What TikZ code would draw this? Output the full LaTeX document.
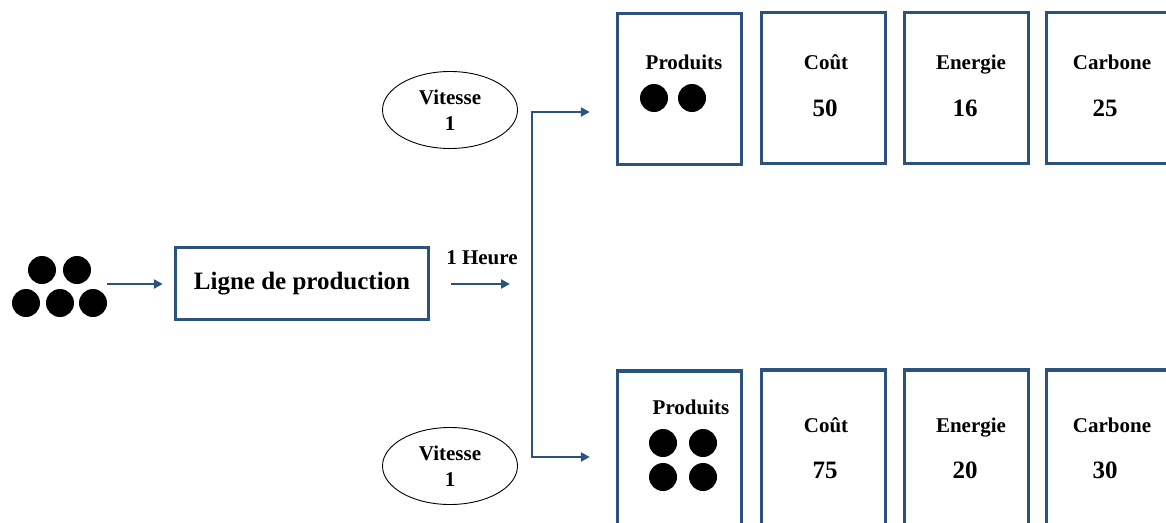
\documentclass[tikz,border=0pt]{standalone}
\usepackage{fontspec}
\setmainfont{Liberation Serif}
\usetikzlibrary{arrows.meta,shapes.geometric}
\definecolor{lineblue}{RGB}{44,82,128}

\begin{document}
\begin{tikzpicture}[x=1pt,y=-1pt]
    \tikzstyle{card}=[draw=lineblue,line width=3.4pt,minimum width=124pt,minimum height=151pt,inner sep=0pt]
    \tikzstyle{dot}=[circle,fill=black,minimum size=28pt,inner sep=0pt]
    \tikzstyle{flowline}=[draw=lineblue,line width=2.6pt]
    \tikzstyle{flow}=[flowline,-{Triangle[length=9pt,width=9pt]}]
    \tikzstyle{lbl}=[inner sep=0pt,text depth=0pt,font=\bfseries\fontsize{21}{26}\selectfont]
    \tikzstyle{num}=[inner sep=0pt,font=\bfseries\fontsize{25}{28}\selectfont]
    \tikzstyle{speed}=[draw,ellipse,line width=0.9pt,minimum width=135pt,minimum height=77pt,inner sep=0pt,align=center,font=\bfseries\fontsize{21}{26}\selectfont]
    \useasboundingbox (0,0) rectangle (1166,522);

    % raw parts
    \node[dot] (d1) at (42,270) {};
    \node[dot] (d2) at (77,270) {};
    \node[dot] (d3) at (26,303) {};
    \node[dot] (d4) at (60,303) {};
    \node[dot] (d5) at (93,303) {};

    % line
    \node[draw=lineblue,line width=3.4pt,minimum width=253pt,minimum height=72pt,
        font=\bfseries\fontsize{25}{28}\selectfont] (line) at (302,283.5) {Ligne de production};
    \coordinate (inArr) at (107,284);
    \draw[flow,shorten >=11pt] (inArr) -- (inArr -| line.west);
    \node[lbl] (hour) at (482,258) {1 Heure};
    \coordinate (h1) at (451,284);
    \coordinate (h2) at (510,284);
    \draw[flow] (h1) -- (h2);

    % speed choices
    \node[speed] (v1) at (450,110) {Vitesse\\1};
    \node[speed] (v2) at (450,466) {Vitesse\\1};

    % result cards, speed 1
    \node[card] (p1) at (679.5,89) {};
    \node[card] (p2) at (823.5,88) {};
    \node[card] (p3) at (966.5,88) {};
    \node[card] (p4) at (1108.5,88) {};
    % result cards, speed 2
    \node[card,minimum height=160pt] (q1) at (679.5,451) {};
    \node[card,minimum height=160pt] (q2) at (823.5,450) {};
    \node[card,minimum height=160pt] (q3) at (966.5,450) {};
    \node[card,minimum height=160pt] (q4) at (1108.5,450) {};

    % fork
    \coordinate (ftop) at (532,112);
    \coordinate (fbot) at (532,457);
    \draw[flowline,line cap=rect] (ftop) -- (fbot);
    \draw[flow,shorten >=26pt] (ftop) -- (ftop -| p1.west);
    \draw[flow,shorten >=26pt] (fbot) -- (fbot -| q1.west);

    % texts, top
    \node[lbl] (p1t) at (684,62) {Produits};
    \node[dot] (p1a) at (654,98) {};
    \node[dot] (p1b) at (692,98) {};
    \node[lbl] (p2t) at (826,62) {Coût};
    \node[num] (p2v) at (825,108) {50};
    \node[lbl] (p3t) at (971,62) {Energie};
    \node[num] (p3v) at (965,108) {16};
    \node[lbl] (p4t) at (1112,62) {Carbone};
    \node[num] (p4v) at (1105,108) {25};

    % texts, bottom
    \node[lbl] (q1t) at (691,407) {Produits};
    \node[dot] (q1a) at (663,443) {};
    \node[dot] (q1b) at (703,443) {};
    \node[dot] (q1c) at (663,477) {};
    \node[dot] (q1d) at (703,477) {};
    \node[lbl] (q2t) at (826,425) {Coût};
    \node[num] (q2v) at (825,470) {75};
    \node[lbl] (q3t) at (971,425) {Energie};
    \node[num] (q3v) at (965,470) {20};
    \node[lbl] (q4t) at (1112,425) {Carbone};
    \node[num] (q4v) at (1105,470) {30};
\end{tikzpicture}
\end{document}
